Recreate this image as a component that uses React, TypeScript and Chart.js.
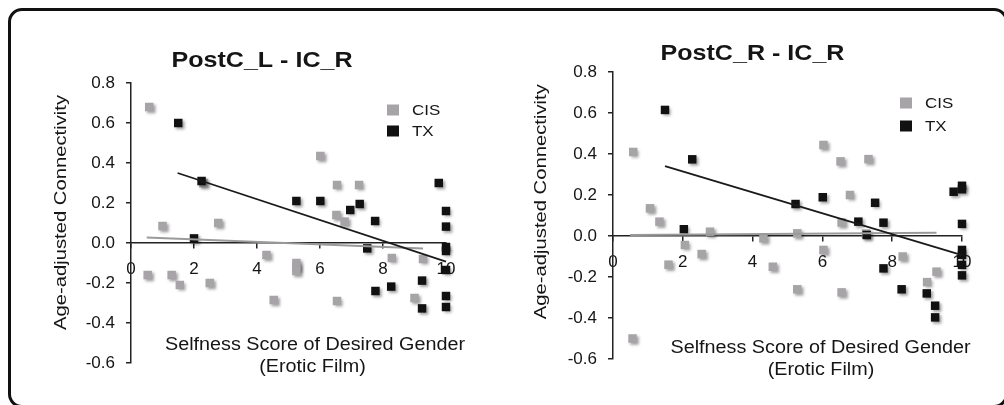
import React, { useEffect, useRef } from "react";
import { Chart, registerables } from "chart.js";

Chart.register(...registerables);

// ---------- data ----------
const xMin = 0;
const xMax = 10;
const xStep = 2;
const yMin = -0.6;
const yMax = 0.8;
const yStep = 0.2;

const seriesNames = ["CIS", "TX"];
const xAxisTitle = ["Selfness Score of Desired Gender", "(Erotic Film)"];
const yAxisTitle = "Age-adjusted Connectivity";

// Panel 1: PostC_L - IC_R
const leftTitle = "PostC_L - IC_R";
const leftCisX = [0.58, 1.0, 0.53, 1.29, 1.55, 2.3, 2.77, 2.5, 4.3, 4.53, 5.25, 5.25, 5.25, 6.01, 6.54, 7.24, 6.52, 6.78, 6.54, 8.28, 9.27, 9.0];
const leftCisY = [0.68, 0.085, -0.16, -0.16, -0.21, 0.3, 0.1, -0.2, -0.06, -0.285, -0.1, -0.12, -0.14, 0.435, 0.29, 0.29, 0.14, 0.107, -0.29, -0.075, -0.08, -0.275];
const leftTxX = [1.5, 2.0, 2.24, 5.25, 6.01, 6.96, 7.26, 7.75, 7.5, 7.76, 8.26, 9.24, 9.24, 9.77, 10, 10, 10, 10, 10, 10, 10];
const leftTxY = [0.6, 0.023, 0.31, 0.21, 0.21, 0.165, 0.195, 0.11, -0.027, -0.24, -0.218, -0.188, -0.327, 0.3, 0.16, 0.082, -0.02, -0.04, -0.135, -0.265, -0.32];
const leftCisFitX = [0.5, 9.27];
const leftCisFitY = [0.028, -0.027];
const leftTxFitX = [1.48, 10];
const leftTxFitY = [0.35, -0.093];

// Panel 2: PostC_R - IC_R
const rightTitle = "PostC_R - IC_R";
const rightCisX = [0.58, 0.56, 1.06, 1.33, 1.59, 2.06, 2.54, 2.78, 4.31, 4.58, 5.28, 5.28, 6.03, 6.03, 6.52, 6.55, 6.55, 6.79, 7.32, 7.25, 8.3, 9.0, 9.27];
const rightCisY = [0.41, -0.5, 0.135, 0.07, -0.14, -0.044, -0.088, 0.021, -0.011, -0.15, 0.013, -0.26, 0.444, -0.068, 0.364, 0.066, -0.275, 0.2, 0.375, 0.012, -0.1, -0.225, -0.174];
const rightTxX = [1.49, 2.27, 2.03, 5.23, 6.01, 7.03, 7.51, 7.75, 7.27, 7.75, 8.27, 8.99, 9.23, 9.23, 9.76, 10, 10, 10, 10, 10, 10, 10];
const rightTxY = [0.615, 0.374, 0.033, 0.156, 0.189, 0.07, 0.162, 0.065, 0.005, -0.158, -0.26, -0.28, -0.34, -0.397, 0.216, 0.245, 0.228, 0.059, -0.068, -0.092, -0.141, -0.192];
const rightCisFitX = [0.49, 9.27];
const rightCisFitY = [0.005, 0.016];
const rightTxFitX = [1.49, 10];
const rightTxFitY = [0.341, -0.093];

// ---------- styles ----------
const FONT = '"Liberation Sans", Arial, Helvetica, sans-serif';
const CIS_COLOR = "#a7a4a7";
const TX_COLOR = "#111111";
const CIS_FIT_COLOR = "#9a9a9a";
const TX_FIT_COLOR = "#1a1a1a";
const AXIS_COLOR = "#222222";
const TEXT_COLOR = "#151515";

const zip = (xs: number[], ys: number[]) => xs.map((x, i) => ({ x, y: ys[i] }));

type Layout = {
  left: number;
  width: number;
  yAxisWidth: number;
  padTop: number;
  padRight: number;
  padBottom: number;
  titleX: number;
  titleY: number;
  yTitleX: number;
  yTitleY: number;
  xTitleX: number;
  xTitleY1: number;
  xTitleX2: number;
  xTitleY2: number;
  legendX: number;
  legendY: number;
  legendGap: number;
};

type PanelProps = {
  title: string;
  cisX: number[];
  cisY: number[];
  txX: number[];
  txY: number[];
  cisFitX: number[];
  cisFitY: number[];
  txFitX: number[];
  txFitY: number[];
  layout: Layout;
};

function drawStretched(
  ctx: CanvasRenderingContext2D,
  text: string,
  x: number,
  y: number,
  font: string,
  stretch: number,
  rotate = 0,
  align: CanvasTextAlign = "center"
) {
  ctx.save();
  ctx.translate(x, y);
  if (rotate) ctx.rotate(rotate);
  ctx.scale(stretch, 1);
  ctx.font = font;
  ctx.fillStyle = TEXT_COLOR;
  ctx.textAlign = align;
  ctx.textBaseline = "alphabetic";
  ctx.fillText(text, 0, 0);
  ctx.restore();
}

function Panel(p: PanelProps) {
  const ref = useRef<HTMLCanvasElement | null>(null);
  useEffect(() => {
    const canvas = ref.current;
    if (!canvas) return;
    const L = p.layout;

    const textPlugin = {
      id: "panelText",
      beforeDatasetDraw(chart: any, args: any) {
        const ds = chart.data.datasets[args.index];
        if (ds.isPoints) {
          const ctx = chart.ctx;
          ctx.save();
          ctx.shadowColor = "rgba(0,0,0,0.38)";
          ctx.shadowBlur = 3;
          ctx.shadowOffsetX = 2;
          ctx.shadowOffsetY = 2;
        }
      },
      afterDatasetDraw(chart: any, args: any) {
        const ds = chart.data.datasets[args.index];
        if (ds.isPoints) chart.ctx.restore();
      },
      afterDraw(chart: any) {
        const ctx = chart.ctx as CanvasRenderingContext2D;
        drawStretched(ctx, p.title, L.titleX, L.titleY, `bold 22px ${FONT}`, 1.14);
        drawStretched(ctx, yAxisTitle, L.yTitleX, L.yTitleY, `17px ${FONT}`, 1.19, -Math.PI / 2);
        drawStretched(ctx, xAxisTitle[0], L.xTitleX, L.xTitleY1, `17.5px ${FONT}`, 1.13);
        drawStretched(ctx, xAxisTitle[1], L.xTitleX2, L.xTitleY2, `17.5px ${FONT}`, 1.13);
        // legend from point datasets
        const pts = chart.data.datasets.filter((d: any) => d.isPoints);
        pts.forEach((d: any, i: number) => {
          const cy = L.legendY + i * L.legendGap;
          ctx.save();
          ctx.fillStyle = d.backgroundColor;
          ctx.fillRect(L.legendX, cy - 5.5, 12, 11);
          ctx.restore();
          drawStretched(ctx, d.label, L.legendX + 25, cy + 5.3, `15px ${FONT}`, 1.13, 0, "left");
        });
      },
    };

    const gridOpts = {
      display: true,
      drawOnChartArea: false,
      drawTicks: true,
      tickLength: 5,
      color: AXIS_COLOR,
      lineWidth: 1.5,
    };
    const borderOpts = { display: true, color: AXIS_COLOR, width: 1.5 };

    const chart = new Chart(canvas, {
      type: "scatter",
      data: {
        datasets: [
          {
            label: "TX fit",
            data: zip(p.txFitX, p.txFitY),
            showLine: true,
            borderColor: TX_FIT_COLOR,
            borderWidth: 1.8,
            pointRadius: 0,
            fill: false,
            clip: false,
            order: 0,
          },
          {
            label: "CIS fit",
            data: zip(p.cisFitX, p.cisFitY),
            showLine: true,
            borderColor: CIS_FIT_COLOR,
            borderWidth: 2,
            pointRadius: 0,
            fill: false,
            clip: false,
            order: 1,
          },
          {
            label: seriesNames[0],
            data: zip(p.cisX, p.cisY),
            backgroundColor: CIS_COLOR,
            borderWidth: 0,
            pointStyle: "rect",
            pointRadius: 6,
            clip: false,
            isPoints: true,
            order: 3,
          } as any,
          {
            label: seriesNames[1],
            data: zip(p.txX, p.txY),
            backgroundColor: TX_COLOR,
            borderWidth: 0,
            pointStyle: "rect",
            pointRadius: 6,
            clip: false,
            isPoints: true,
            order: 2,
          } as any,
        ],
      },
      options: {
        animation: false,
        responsive: false,
        events: [],
        layout: {
          padding: { left: 0, top: L.padTop, right: L.padRight, bottom: L.padBottom },
        },
        plugins: {
          legend: { display: false },
          tooltip: { enabled: false },
          title: { display: false },
        },
        scales: {
          x: {
            type: "linear",
            min: xMin,
            max: xMax,
            position: { y: 0 } as any,
            ticks: {
              stepSize: xStep,
              autoSkip: false,
              maxRotation: 0,
              color: TEXT_COLOR,
              font: { family: FONT, size: 17 },
              padding: 11,
            },
            grid: gridOpts,
            border: borderOpts,
          },
          y: {
            type: "linear",
            position: "left",
            min: yMin,
            max: yMax,
            afterFit: (s: any) => {
              s.width = L.yAxisWidth;
            },
            ticks: {
              stepSize: yStep,
              autoSkip: false,
              color: TEXT_COLOR,
              font: { family: FONT, size: 17 },
              padding: 11,
              callback: (v: any) => (Math.abs(Number(v)) < 1e-9 ? "0.0" : Number(v).toFixed(1)),
            },
            grid: gridOpts,
            border: borderOpts,
          },
        },
      } as any,
      plugins: [textPlugin],
    });
    return () => chart.destroy();
  }, []);

  return (
    <canvas
      ref={ref}
      width={p.layout.width}
      height={405}
      style={{ position: "absolute", left: p.layout.left, top: 0, width: p.layout.width, height: 405 }}
    />
  );
}

const leftLayout: Layout = {
  left: 0,
  width: 500,
  yAxisWidth: 131,
  padTop: 83,
  padRight: 54,
  padBottom: 42,
  titleX: 262,
  titleY: 66.5,
  yTitleX: 66,
  yTitleY: 212.5,
  xTitleX: 315,
  xTitleY1: 350,
  xTitleX2: 312.5,
  xTitleY2: 371.5,
  legendX: 387,
  legendY: 110,
  legendGap: 21,
};

const rightLayout: Layout = {
  left: 500,
  width: 504,
  yAxisWidth: 113,
  padTop: 72,
  padRight: 42,
  padBottom: 46,
  titleX: 252.5,
  titleY: 59.5,
  yTitleX: 46,
  yTitleY: 201.7,
  xTitleX: 320.5,
  xTitleY1: 352.7,
  xTitleX2: 321,
  xTitleY2: 375,
  legendX: 400,
  legendY: 103,
  legendGap: 23,
};

export default function App() {
  return (
    <div
      style={{
        position: "absolute",
        left: 0,
        top: 0,
        width: 1004,
        height: 405,
        overflow: "hidden",
        background: "#ffffff",
      }}
    >
      <div
        style={{
          position: "absolute",
          left: 8,
          top: 8,
          width: 1000,
          height: 400,
          boxSizing: "border-box",
          border: "3px solid #111",
          borderRadius: 14,
        }}
      />
      <Panel
        title={leftTitle}
        cisX={leftCisX}
        cisY={leftCisY}
        txX={leftTxX}
        txY={leftTxY}
        cisFitX={leftCisFitX}
        cisFitY={leftCisFitY}
        txFitX={leftTxFitX}
        txFitY={leftTxFitY}
        layout={leftLayout}
      />
      <Panel
        title={rightTitle}
        cisX={rightCisX}
        cisY={rightCisY}
        txX={rightTxX}
        txY={rightTxY}
        cisFitX={rightCisFitX}
        cisFitY={rightCisFitY}
        txFitX={rightTxFitX}
        txFitY={rightTxFitY}
        layout={rightLayout}
      />
    </div>
  );
}
